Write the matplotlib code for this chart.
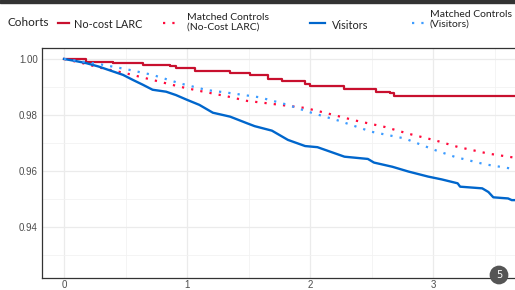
import matplotlib
matplotlib.use("Agg")
import matplotlib.pyplot as plt
from matplotlib.lines import Line2D

# step points (years, survival)
larc_t = [0, 0.18, 0.40, 0.64, 0.86, 0.91, 1.065, 1.35, 1.51, 1.66, 1.77, 1.96, 2.0, 2.28, 2.54, 2.65, 2.68, 3.70]
larc_s = [1.0, 0.999, 0.9985, 0.998, 0.9973, 0.9966, 0.9957, 0.9948, 0.9942, 0.993, 0.992, 0.9911, 0.9905, 0.9892, 0.9883, 0.9877, 0.9868, 0.9868]

vis_t = [0, 0.10, 0.18, 0.28, 0.38, 0.48, 0.56, 0.64, 0.72, 0.83, 0.91, 1.0, 1.1, 1.21, 1.35, 1.49, 1.55, 1.69, 1.82,
         1.96, 2.06, 2.17, 2.28, 2.47, 2.52, 2.67, 2.8, 2.96, 3.07, 3.2, 3.22, 3.4, 3.45, 3.49, 3.61, 3.64, 3.70]
vis_s = [1.0, 0.9992, 0.9985, 0.9973, 0.9958, 0.9943, 0.9925, 0.9908, 0.989, 0.9883, 0.9871, 0.9854, 0.9836, 0.9808,
         0.9794, 0.977, 0.976, 0.9744, 0.9711, 0.9689, 0.9685, 0.9668, 0.9651, 0.9643, 0.963, 0.9615, 0.9598, 0.958,
         0.957, 0.9556, 0.9544, 0.9538, 0.9525, 0.9506, 0.9502, 0.9496, 0.9496]

ctl_larc_t = [0, 0.18, 0.28, 0.51, 0.72, 0.94, 1.1, 1.32, 1.49, 1.61, 1.96, 2.12, 2.37, 2.61, 2.8, 3.02, 3.2, 3.45, 3.70]
ctl_larc_s = [1.0, 0.9982, 0.997, 0.9948, 0.9925, 0.9901, 0.9886, 0.9867, 0.985, 0.9844, 0.9825, 0.9808, 0.978,
              0.9757, 0.9733, 0.9709, 0.9686, 0.9662, 0.9645]

ctl_vis_t = [0, 0.28, 0.51, 0.72, 0.94, 1.16, 1.37, 1.59, 1.82, 1.98, 2.23, 2.5, 2.77, 3.02, 3.18, 3.42, 3.70]
ctl_vis_s = [1.0, 0.9982, 0.9963, 0.9943, 0.9913, 0.9889, 0.9877, 0.9863, 0.9836, 0.9812, 0.978, 0.974, 0.9716,
             0.9674, 0.965, 0.9624, 0.9604]

labels = ["No-cost LARC", "Matched Controls\n(No-Cost LARC)", "Visitors", "Matched Controls\n(Visitors)"]

red = "#C8102E"
red_ctl = "#FF0A3C"
blue = "#0066CC"
blue_ctl = "#3D9CFF"
dots = (0, (1, 3.2))

W, H = 515, 290
fig = plt.figure(figsize=(W / 100, H / 100), dpi=100)
ax = fig.add_axes([42/W, 12/H, 1.02 - 42/W, 230/H])

ax.step(larc_t, larc_s, where="post", color=red, lw=1.6)
ax.plot(ctl_larc_t, ctl_larc_s, color=red_ctl, lw=1.6, linestyle=dots)
ax.plot(vis_t, vis_s, color=blue, lw=1.7)
ax.plot(ctl_vis_t, ctl_vis_s, color=blue_ctl, lw=1.6, linestyle=dots)

ax.set_xlim(-0.179, 3.75)
ax.set_ylim(0.9218, 1.0039)
ax.set_xticks([0, 1, 2, 3])
ax.set_xticks([0.5, 1.5, 2.5, 3.5], minor=True)
ax.set_yticks([0.94, 0.96, 0.98, 1.00])
ax.set_yticklabels(["0.94", "0.96", "0.98", "1.00"])
ax.set_yticks([0.93, 0.95, 0.97, 0.99], minor=True)
ax.grid(which="major", color="#EBEBEB", lw=0.9)
ax.grid(which="minor", color="#F2F2F2", lw=0.6)
ax.set_axisbelow(True)
for s in ax.spines.values():
    s.set_color("#333333")
    s.set_linewidth(0.9)
ax.tick_params(which="both", length=0)
ax.tick_params(which="major", labelsize=7, labelcolor="#4D4D4D")
ax.tick_params(axis="x", pad=1.5)
ax.tick_params(axis="y", pad=3)
for lab in ax.get_xticklabels() + ax.get_yticklabels():
    lab.set_family("Liberation Sans")

# legend across the top, placed by hand
fig.text(8/W, 1 - 23/H, "Cohorts", fontsize=8.5, family="Lato", va="center", color="#222222")
keys = [(58, 69, red, "-"), (163, 176, red_ctl, dots), (310, 325, blue, "-"), (412, 425, blue_ctl, dots)]
for x0, x1, c, ls in keys:
    fig.add_artist(Line2D([x0/W, x1/W], [1 - 22.5/H, 1 - 22.5/H], transform=fig.transFigure,
                          color=c, lw=1.6, linestyle=ls))
label_pos = [(74, 25, 7.8), (187, 22.5, 7.5), (332, 25.5, 7.8), (430, 19, 7.5)]
for (x, y, fs), txt in zip(label_pos, labels):
    fig.text(x/W, 1 - y/H, txt, fontsize=fs, family="Lato", va="center", ha="left",
             linespacing=1.12, color="#222222")

# dark strip at the very top
fig.patches.append(plt.Rectangle((0, 1 - 3/H), 1, 3/H, transform=fig.transFigure,
                                 color="#333333", zorder=10))

# page badge
fig.text(499/W, 1 - 275/H, "5", fontsize=7, color="white", ha="center", va="center",
         bbox=dict(boxstyle="circle,pad=0.45", fc="#555555", ec="none"))

fig.savefig("out.png", dpi=100)
